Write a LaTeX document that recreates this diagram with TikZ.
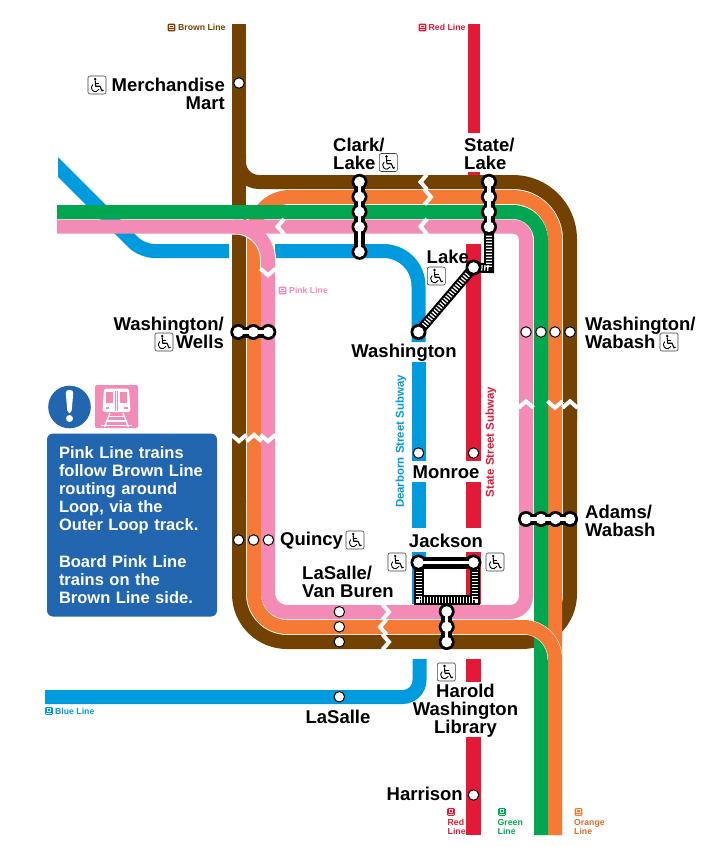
\documentclass[tikz,border=0pt]{standalone}
\usepackage{fontspec}
\setmainfont{Liberation Sans}
\definecolor{brownl}{HTML}{744200}
\definecolor{orangel}{HTML}{F47A35}
\definecolor{greenl}{HTML}{00A650}
\definecolor{pinkl}{HTML}{F48BB6}
\definecolor{bluel}{HTML}{009BDE}
\definecolor{redl}{HTML}{E31937}
\definecolor{infob}{HTML}{2166AE}
\definecolor{orangetxt}{HTML}{DE6A2C}
\tikzset{
  rail/.style={line width=14pt,line cap=butt},
  chevron/.style={draw=white,line width=4pt,miter limit=10},
  stn/.style={circle,draw=black,fill=white,line width=1pt,minimum size=10.5pt,inner sep=0pt},
  xstn/.style={circle,fill=white,minimum size=10.6pt,inner sep=0pt},
  xout/.style={draw=black,line width=11pt},
  xin/.style={draw=white,line width=3.2pt},
  hout/.style={draw=black,line width=10pt,miter limit=10},
  hin/.style={draw=white,line width=5.6pt,dash pattern=on 1.3pt off 1.7pt},
  lbl/.style={font=\fontsize{18.5}{18}\selectfont\bfseries,inner sep=0pt,text=black},
  mini/.style={font=\fontsize{8.7}{9}\selectfont\bfseries,inner sep=0pt},
  wc/.pic={
    \draw[draw=black!75,fill=white,line width=.6pt,rounded corners=2pt] (-9,-9) rectangle (9,9);
    \fill (-1.8,-6) circle (1.3pt);
    \draw[line width=1.1pt,line join=round] (-1.8,-4.5) -- (-1.4,1.2) -- (3,1.2) -- (5,5.8) -- (6.5,5);
    \draw[line width=1.1pt] (-1.6,-1.8) -- (2.4,-1.8);
    \draw[line width=.9pt] (-4.2,-.4) arc[start angle=130,end angle=335,radius=4pt];
  },
}
\newcommand{\chL}[2]{\draw[chevron] (#1+8,#2-7.5) -- (#1+1.5,#2) -- (#1+8,#2+7.5);}
\newcommand{\chR}[2]{\draw[chevron] (#1+1.5,#2-7.5) -- (#1+8,#2) -- (#1+1.5,#2+7.5);}
\newcommand{\chU}[2]{\draw[chevron] (#1-7.5,#2+3.3) -- (#1,#2-3.2) -- (#1+7.5,#2+3.3);}
\newcommand{\chD}[2]{\draw[chevron] (#1-7.5,#2-3.3) -- (#1,#2+3.2) -- (#1+7.5,#2-3.3);}
\newcommand{\miniicon}[3]{%
  \fill[#3,rounded corners=1pt] (#1-3.8,#2-3.8) rectangle (#1+3.8,#2+3.8);
  \fill[white,opacity=.8] (#1-2.2,#2-2.6) rectangle (#1+2.2,#2+.8);
  \fill[#3] (#1-1.3,#2-1.8) rectangle (#1+1.3,#2-.2);
  \fill[white,opacity=.8] (#1-2.8,#2+1.6) rectangle (#1+2.8,#2+2.5);
}
\begin{document}
\begin{tikzpicture}[x=1pt,y=-1pt]
\useasboundingbox (0,0) rectangle (722,847);
\fill[white] (0,0) rectangle (722,847);

% ---- blue
\begin{scope}
  \clip (58,100) rectangle (230,300);
  \draw[rail,bluel,rounded corners=12pt] (40,149) -- (142,251) -- (229,251);
\end{scope}
\draw[rail,bluel,rounded corners=35pt] (275,251) -- (418.5,251) -- (418.5,342);
\draw[rail,bluel] (418.5,362) -- (418.5,461);
\draw[rail,bluel] (418.5,482) -- (418.5,528);
\draw[rail,bluel] (418.5,552) -- (418.5,604);
\draw[rail,bluel,rounded corners=17pt] (419.5,659) -- (419.5,697) -- (45,697);

% ---- red
\draw[draw=redl,line width=12pt] (474,24) -- (474,133);
\draw[draw=redl,line width=12pt] (474,172) -- (474,180);
\draw[draw=redl,line width=15pt] (473.5,244) -- (473.5,461);
\draw[draw=redl,line width=15pt] (473.5,482) -- (473.5,528);
\draw[draw=redl,line width=15pt] (473.5,552) -- (473.5,604);
\draw[draw=redl,line width=15pt] (473.5,659) -- (473.5,682);
\draw[draw=redl,line width=15pt] (473.5,737) -- (473.5,835);

% ---- brown
\draw[rail,brownl] (239,24) -- (239,590);
\draw[rail,brownl,rounded corners=48pt] (239,500) -- (239,642) -- (400,642);
\draw[rail,brownl,rounded corners=48pt] (400,642) -- (570,642) -- (570,400);
\draw[rail,brownl,rounded corners=57pt] (570,420) -- (570,182) -- (400,182);
\draw[rail,brownl,rounded corners=20pt] (400,182) -- (239,182) -- (239,155);

% ---- orange
\draw[rail,orangel,rounded corners=36pt] (254,300) -- (254,197) -- (400,197);
\draw[rail,orangel,rounded corners=33pt] (254,290) -- (254,627) -- (400,627);
\draw[rail,orangel,rounded corners=42pt] (400,197) -- (555,197) -- (555,835);

% casing of the pink curve over brown and orange
\draw[white,line width=16pt] (200,226.5) -- (235,226.5) arc[start angle=90,end angle=0,radius=33pt] -- (268,270);

% ---- green
\draw[rail,greenl,rounded corners=28pt] (57,212) -- (541,212) -- (541,835);

% ---- orange over green
\draw[white,line width=15pt,rounded corners=32pt] (400,627) -- (555,627) -- (555,835);
\draw[rail,greenl] (541,660) -- (541,835);
\draw[rail,orangel,rounded corners=32pt] (400,627) -- (555,627) -- (555,835);

% ---- pink
\draw[rail,pinkl] (57,226.5) -- (235,226.5) arc[start angle=90,end angle=0,radius=33pt] -- (268,300);
\draw[rail,pinkl,rounded corners=19pt] (268,290) -- (268,612) -- (400,612);
\draw[rail,pinkl,rounded corners=16pt] (400,612) -- (526,612) -- (526,400);
\draw[rail,pinkl,rounded corners=13pt] (526,420) -- (526,226.5) -- (235,226.5);

% ---- direction marks
\chL{419}{182}
\chR{423}{197}
\chL{419}{226.5}
\chL{276}{226.5}
\chD{268}{272}
\chD{239}{438}
\chU{254}{438}
\chD{268}{438}
\chU{526}{404.5}
\chD{555}{404.5}
\chU{570}{404.5}
\chR{381}{612}
\chL{378.5}{627}
\chR{381}{642}

% ---- plain stops
\node[stn] (merch) at (239,83) {};
\node[stn] (wab1) at (526,332) {};
\node[stn] (wab2) at (541,332) {};
\node[stn] (wab3) at (555,332) {};
\node[stn] (wab4) at (570,332) {};
\node[stn] (qu1) at (238.6,540) {};
\node[stn] (qu2) at (253.6,540) {};
\node[stn] (qu3) at (268.4,540) {};
\node[stn] (lv1) at (339.3,611.8) {};
\node[stn] (lv2) at (339.3,626.8) {};
\node[stn] (lv3) at (339.3,641.8) {};
\node[stn] (lasalle) at (339.3,696.8) {};
\node[stn] (monb) at (418.5,453) {};
\node[stn] (monr) at (473.5,453) {};
\node[stn] (harr) at (473.5,795) {};

% ---- coordinates of the connected stops
\coordinate (lakeP) at (473.5,267.5);
\coordinate (sl4P) at (489,226.5);
\coordinate (cornerP) at (489,268);
\coordinate (washP) at (418.5,332);
\coordinate (jaL) at (418.5,562.5);
\coordinate (jaR) at (473.5,562.5);
\coordinate (boxBL) at (418.8,600);
\coordinate (boxBR) at (475,600);
\coordinate (boxL) at (418.8,566);
\coordinate (boxR) at (475,566);

% ---- Jackson tunnel box
\fill[white] (424,566) rectangle (466,597);
\draw[hout] (boxL) -- (boxBL) -- (boxBR) -- (boxR);
\draw[hin] (boxL) -- (boxBL) -- (boxBR) -- (boxR);
\draw[draw=black,line width=12pt] (jaL) -- (jaR);
\fill (jaL) circle (8pt);
\fill (jaR) circle (8pt);
\draw[xin] (jaL) -- (jaR);
\node[xstn] (jackL) at (jaL) {};
\node[xstn] (jackR) at (jaR) {};

% ---- Lake / State tunnels
\draw[hout] (sl4P) -- (cornerP) -- (lakeP);
\draw[hin] (sl4P) -- (cornerP) -- (lakeP);
\draw[hout] (lakeP) -- (washP);
\draw[hin] (lakeP) -- (washP);
\fill (lakeP) circle (8pt);
\fill (washP) circle (8pt);
\node[xstn] (lakeS) at (lakeP) {};
\node[xstn] (washS) at (washP) {};

% ---- Clark/Lake
\foreach \i/\y in {1/181.8,2/196.8,3/211.8,4/226.8,5/251.8}{\coordinate (cl\i) at (359.5,\y);}
\draw[xout] (cl1) -- (cl5);
\foreach \i in {1,...,5}{\fill (cl\i) circle (8pt);}
\draw[xin] (cl1) -- (cl5);
\foreach \i in {1,...,5}{\node[xstn] (cls\i) at (cl\i) {};}

% ---- State/Lake
\foreach \i/\y in {1/181.8,2/196.8,3/211.8,4/226.8}{\coordinate (sl\i) at (489,\y);}
\draw[xout] (sl1) -- (sl4);
\foreach \i in {1,...,4}{\fill (sl\i) circle (8pt);}
\draw[xin] (sl1) -- (sl4);
\foreach \i in {1,...,4}{\node[xstn] (sls\i) at (sl\i) {};}

% ---- Washington/Wells
\foreach \i/\x in {1/238.3,2/253.3,3/268.3}{\coordinate (ww\i) at (\x,332);}
\draw[xout] (ww1) -- (ww3);
\foreach \i in {1,2,3}{\fill (ww\i) circle (8pt);}
\draw[xin] (ww1) -- (ww3);
\foreach \i in {1,2,3}{\node[xstn] (wws\i) at (ww\i) {};}

% ---- Adams/Wabash
\foreach \i/\x in {1/526,2/541,3/555.5,4/570}{\coordinate (aw\i) at (\x,519);}
\draw[xout] (aw1) -- (aw4);
\foreach \i in {1,...,4}{\fill (aw\i) circle (8pt);}
\draw[xin] (aw1) -- (aw4);
\foreach \i in {1,...,4}{\node[xstn] (aws\i) at (aw\i) {};}

% ---- Harold Washington Library
\foreach \i/\y in {1/611.5,2/626.8,3/642}{\coordinate (hw\i) at (446.7,\y);}
\draw[xout] (hw1) -- (hw3);
\foreach \i in {1,2,3}{\fill (hw\i) circle (8pt);}
\draw[xin] (hw1) -- (hw3);
\foreach \i in {1,2,3}{\node[xstn] (hws\i) at (hw\i) {};}

% ---- accessibility signs
\pic at (97,85) {wc};
\pic at (388.3,162.5) {wc};
\pic at (436.3,276) {wc};
\pic at (164,342) {wc};
\pic at (669,342) {wc};
\pic at (355,540) {wc};
\pic at (397,562) {wc};
\pic at (495,562) {wc};
\pic at (446.3,672) {wc};

% ---- station names
\node[lbl,align=right,anchor=east] (tMerch) at (225,94) {Merchandise\\Mart};
\node[lbl,align=left,anchor=west] (tClark) at (333,153.5) {Clark/\\Lake};
\node[lbl,align=left,anchor=west] (tState) at (464,153.5) {State/\\Lake};
\node[lbl,anchor=west] (tLake) at (426.5,257) {Lake};
\node[lbl] (tWash) at (404,353) {Washington};
\node[lbl,align=right,anchor=east] (tWells) at (224,333) {Washington/\\Wells};
\node[lbl,align=left,anchor=west] (tWabash) at (585,333) {Washington/\\Wabash};
\node[lbl,align=left,anchor=west] (tAdams) at (585,520.5) {Adams/\\Wabash};
\node[lbl,anchor=west] (tQuincy) at (280,540.5) {Quincy};
\node[lbl,align=left,anchor=west] (tVan) at (302,582) {LaSalle/\\Van Buren};
\node[lbl] (tJack) at (446,541) {Jackson};
\node[lbl] (tMon) at (446,472) {Monroe};
\node[lbl,align=center] (tHarold) at (465.5,711) {Harold\\Washington\\Library};
\node[lbl] (tLaS) at (338,716.5) {LaSalle};
\node[lbl,anchor=east] (tHarr) at (463,794) {Harrison};

% ---- subway names
\node[font=\fontsize{11.45}{12}\selectfont\bfseries,text=bluel,inner sep=0pt,rotate=90] (tDear) at (401,441.5) {Dearborn Street Subway};
\node[font=\fontsize{11.45}{12}\selectfont\bfseries,text=redl,inner sep=0pt,rotate=90] (tStateS) at (491,442) {State Street Subway};

% ---- line names
\miniicon{171.5}{27.5}{brownl}
\node[mini,text=brownl,anchor=west] (nBrown) at (178,27.5) {Brown Line};
\miniicon{422.5}{27.5}{redl}
\node[mini,text=redl,anchor=west] (nRed) at (428.5,27.5) {Red Line};
\miniicon{282.5}{290.5}{pinkl}
\node[mini,text=pinkl,anchor=west] (nPink) at (289,290.5) {Pink Line};
\miniicon{49}{711}{bluel}
\node[mini,text=bluel,anchor=west] (nBlue) at (55,711) {Blue Line};
\miniicon{451}{812}{redl}
\node[mini,text=redl,align=left,anchor=west] (nRed2) at (447.5,827) {Red\\Line};
\miniicon{502}{812}{greenl}
\node[mini,text=greenl,align=left,anchor=west] (nGreen) at (497.5,827) {Green\\Line};
\miniicon{578.5}{812}{orangel}
\node[mini,text=orangetxt,align=left,anchor=west] (nOrange) at (574,827) {Orange\\Line};

% ---- notice
\fill[infob] (69.5,407) circle (21.3pt);
\fill[white,rounded corners=3pt] (65.5,390) -- (73.5,390) -- (71.5,413) -- (67.5,413) -- cycle;
\fill[white] (69.5,418.5) circle (3.5pt);
\fill[pinkl,rounded corners=2pt] (95,385) rectangle (138,428);
\fill[white,rounded corners=2.5pt] (104,388.5) -- (129,388.5) -- (130.5,412) -- (102.5,412) -- cycle;
\fill[pinkl] (106,392) rectangle (113,403);
\fill[pinkl] (120,392) rectangle (127,403);
\fill[pinkl] (115,391) rectangle (115.8,411);
\fill[pinkl] (117.4,391) rectangle (118.2,411);
\fill[pinkl] (105.5,407) rectangle (109,409);
\fill[pinkl] (124,407) rectangle (127.5,409);
\draw[white,line width=1.4pt] (110,413) -- (104.5,427);
\draw[white,line width=1.4pt] (123,413) -- (128.5,427);
\draw[white,line width=1.4pt] (108,416.5) -- (125,416.5);
\draw[white,line width=1.4pt] (106,421) -- (127,421);
\draw[white,line width=1.4pt] (101,425.5) -- (132,425.5);
\node[fill=infob,rounded corners=6pt,text=white,font=\fontsize{16.5}{18.1}\selectfont\bfseries,
      minimum width=170pt,minimum height=183pt,inner sep=0pt,text width=146pt,align=left] (notice) at (132,525)
  {Pink Line trains\\follow Brown Line\\routing around\\Loop, via the\\Outer Loop track.\\[18.1pt]Board Pink Line\\trains on the\\Brown Line side.};
\end{tikzpicture}
\end{document}
